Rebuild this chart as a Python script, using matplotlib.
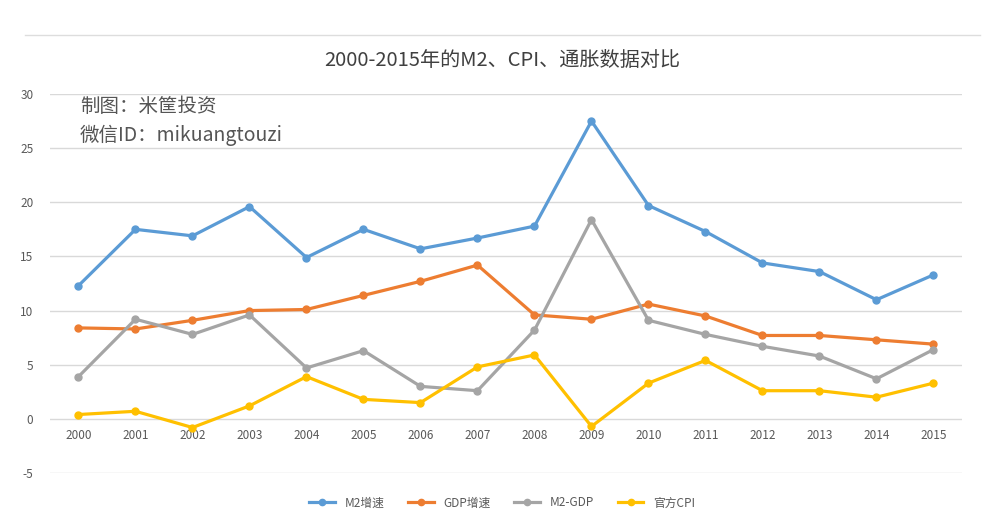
import matplotlib
matplotlib.use("Agg")
import matplotlib.pyplot as plt
import numpy as np

plt.rcParams['font.family'] = ['Noto Sans CJK SC', 'DejaVu Sans']
plt.rcParams['axes.unicode_minus'] = False

years = ["2000", "2001", "2002", "2003", "2004", "2005", "2006", "2007",
         "2008", "2009", "2010", "2011", "2012", "2013", "2014", "2015"]
m2_growth = [12.3, 17.5, 16.9, 19.6, 14.9, 17.5, 15.7, 16.7,
             17.8, 27.5, 19.7, 17.3, 14.4, 13.6, 11.0, 13.3]
gdp_growth = [8.4, 8.3, 9.1, 10.0, 10.1, 11.4, 12.7, 14.2,
              9.6, 9.2, 10.6, 9.5, 7.7, 7.7, 7.3, 6.9]
m2_minus_gdp = [3.9, 9.2, 7.8, 9.6, 4.7, 6.3, 3.0, 2.6,
                8.2, 18.4, 9.1, 7.8, 6.7, 5.8, 3.7, 6.4]
official_cpi = [0.4, 0.7, -0.8, 1.2, 3.9, 1.8, 1.5, 4.8,
                5.9, -0.7, 3.3, 5.4, 2.6, 2.6, 2.0, 3.3]

series = [
    ("M2增速", m2_growth, "#5B9BD5"),
    ("GDP增速", gdp_growth, "#ED7D31"),
    ("M2-GDP", m2_minus_gdp, "#A5A5A5"),
    ("官方CPI", official_cpi, "#FFC000"),
]

fig = plt.figure(figsize=(10.04, 5.31), dpi=100)
ax = fig.add_axes([50 / 1004, 1 - 473 / 531, 912 / 1004, (473 - 94) / 531])

x = np.arange(len(years))
for label, vals, color in series:
    ax.plot(x, vals, color=color, lw=2.3, marker="o", markersize=5,
            label=label, solid_joinstyle="round")

ax.set_xlim(-0.5, len(years) - 0.5)
ax.set_ylim(-5, 30)
ax.set_yticks(range(-5, 31, 5))
ax.yaxis.grid(True, color="#d9d9d9", lw=1)
ax.set_axisbelow(True)
for s in ["left", "right", "top"]:
    ax.spines[s].set_visible(False)
# category labels sit at the zero line like Excel
ax.spines["bottom"].set_position(("data", 0))
ax.spines["bottom"].set_visible(False)
ax.set_xticks(x)
ax.set_xticklabels(years)
ax.tick_params(axis="x", length=0, pad=7, labelsize=8.5, labelcolor="#595959")
ax.tick_params(axis="y", length=0, pad=12, labelsize=8.5, labelcolor="#595959")

fig.text(0.5, 1 - 60 / 531, "2000-2015年的M2、CPI、通胀数据对比",
         ha="center", va="center", fontsize=14.5, color="#404040")
fig.add_artist(plt.Line2D([25 / 1004, 980 / 1004], [1 - 35 / 531] * 2,
                          color="#dddddd", lw=1))

ax.text(80 / 1004, 1 - 107 / 531, "制图：米筐投资", transform=fig.transFigure,
        fontsize=14, color="#555555", va="center", ha="left")
ax.text(80 / 1004, 1 - 135 / 531, "微信ID：mikuangtouzi", transform=fig.transFigure,
        fontsize=14, color="#555555", va="center", ha="left")

fig.legend(loc="center", bbox_to_anchor=(0.5, 1 - 503 / 531), ncol=4,
           frameon=False, fontsize=8.5, handlelength=2.2, columnspacing=2.0,
           labelcolor="#595959", markerscale=0.9)

fig.savefig("out.png", dpi=100)
